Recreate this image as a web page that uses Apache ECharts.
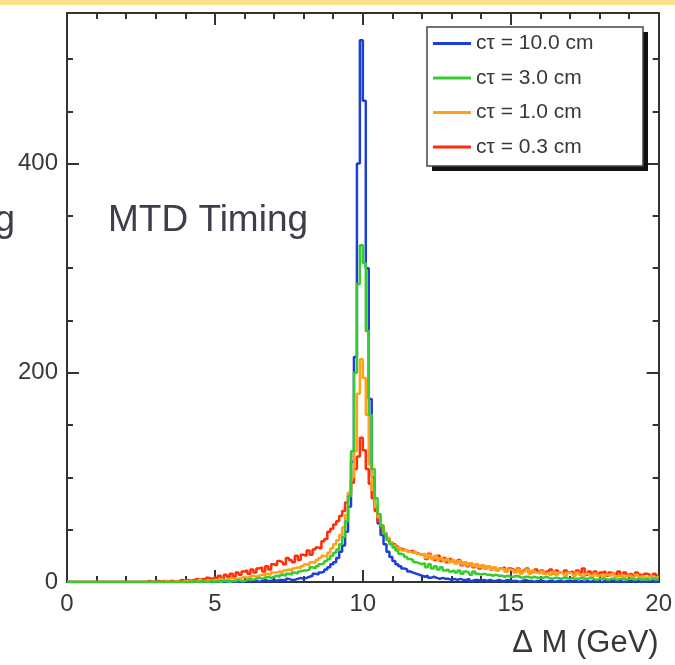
<!DOCTYPE html>
<html>
<head>
<meta charset="utf-8">
<script src="https://cdn.jsdelivr.net/npm/echarts@6.0.0/dist/echarts.min.js"></script>
<style>
  html, body { margin: 0; padding: 0; background: #fff; }
  #chart { width: 675px; height: 665px; }
</style>
</head>
<body>
<div id="chart"></div>
<script>
// ── Data: Delta M histograms, 0.1 GeV bins from 0 to 20 GeV ──────────────
const binWidth = 0.1;
const yMax = 544;
const xTickLabels = [0, 5, 10, 15, 20];

const ct10 = [
  0,0,0,0,0,0,0,0,0,0, 0,0,0,0,0,0,0,0,0,0, 0,0,0,0,0,0,0,0,0,0, 0,0,0,0,0,0,0,0,0,0,
  0,0,0,1,0,0,0,1,0,0, 0,1,0,0,1,0,1,0,1,1, 1,0,1,1,0,1,2,1,1,2, 1,2,2,1,3,2,2,3,4,3,
  4,5,6,8,7,9,10,12,14,17, 19,23,29,35,48,72,115,215,400,518,
  460,300,175,100,72,56,45,36,29,24, 20,17,15,13,12,10,9,8,7,6,
  5,6,4,5,4,3,4,3,3,2, 3,2,3,2,2,3,1,2,2,1, 2,1,2,1,1,2,1,1,2,1, 1,1,0,1,2,1,1,0,1,1,
  1,0,1,1,0,1,1,0,1,0, 1,1,0,1,0,1,0,1,1,0, 0,1,0,1,1,0,1,0,0,1, 1,0,1,0,1,0,1,1,0,1
];
const ct3 = [
  0,0,0,0,0,0,0,0,0,0, 0,0,0,0,0,0,0,0,0,0, 0,0,0,0,0,0,0,0,0,0, 0,0,0,0,0,0,0,0,0,0,
  0,0,1,0,0,1,0,0,1,0, 1,0,1,1,0,1,1,2,1,1, 2,3,2,3,4,3,4,5,4,5, 6,5,7,6,8,7,9,8,10,11,
  11,12,14,13,15,17,18,20,22,25, 28,31,36,43,58,82,125,200,285,322,
  305,240,160,108,80,65,54,46,40,36, 33,30,27,26,24,22,21,19,18,17,
  18,14,17,13,15,12,14,11,12,10, 11,9,11,8,10,9,7,10,8,7, 8,7,7,6,7,6,6,5,6,5, 5,6,5,4,5,5,4,5,4,4,
  4,5,4,3,4,4,3,4,4,3, 4,3,3,4,3,3,4,3,2,3, 3,3,2,3,3,2,3,3,2,3, 3,2,3,3,2,3,2,3,3,2
];
const ct1 = [
  0,0,0,0,0,0,0,0,0,0, 0,0,0,0,0,0,0,0,0,0, 0,0,0,0,0,0,0,0,0,0, 0,0,0,1,0,0,1,0,0,1,
  1,0,1,1,2,1,1,2,1,2, 2,3,2,2,3,4,3,3,4,5, 4,5,6,5,6,7,6,8,7,9, 9,10,9,11,12,11,13,14,13,15,
  17,16,19,18,21,23,25,24,28,32, 36,40,45,52,64,85,100,125,180,213,
  195,160,112,88,72,62,54,47,42,38, 35,33,32,30,31,29,28,29,27,26,
  27,23,26,22,25,21,23,20,22,19, 21,18,20,17,19,16,18,15,17,14, 16,13,15,12,14,11,13,12,10,12, 11,9,12,8,10,12,8,11,9,8,
  10,8,9,7,10,7,9,8,6,9, 8,6,9,7,5,8,7,5,8,6, 7,5,7,6,8,5,6,7,4,6, 6,4,7,5,6,4,5,6,4,5
];
const ct03 = [
  0,0,0,0,0,0,0,0,0,0, 0,0,0,0,0,0,0,0,0,0, 0,0,0,0,0,0,0,1,0,0, 1,0,1,0,1,1,0,1,2,1,
  2,1,2,3,2,3,2,4,3,4, 4,6,3,7,5,8,5,9,7,10, 11,8,12,9,13,14,10,15,12,17, 16,20,19,17,23,21,19,25,21,26,
  25,30,26,31,33,32,39,41,48,51, 55,58,63,68,76,85,95,108,120,138,
  126,108,94,80,68,58,52,46,42,38, 36,34,32,31,30,29,30,28,27,26,
  26,22,27,23,21,25,20,23,19,22, 20,18,21,16,19,15,18,14,17,13, 16,13,15,12,14,11,13,14,10,13, 12,10,13,9,11,13,9,10,12,9,
  11,8,10,12,8,11,9,8,11,9, 10,8,11,9,13,7,10,8,10,7, 9,10,6,9,8,7,10,6,9,7, 8,6,9,7,6,8,7,5,8,6
];

const seriesNames  = ['c\u03c4 = 10.0 cm', 'c\u03c4 = 3.0 cm', 'c\u03c4 = 1.0 cm', 'c\u03c4 = 0.3 cm'];
const seriesValues = [ct10, ct3, ct1, ct03];
const seriesColors = ['#1c3fdc', '#36cc2e', '#ffa21a', '#ff2d0a'];
const seriesZ      = [2, 5, 4, 3];   // green drawn on top, blue at the back

// ── Style ────────────────────────────────────────────────────────────────
const fontFamily = '"Liberation Sans", Arial, Helvetica, sans-serif';
const axisColor  = '#333';
const textColor  = '#383838';

function toSteps(values) {
  const pts = values.map((v, i) => [+(i * binWidth).toFixed(2), v]);
  pts.push([+(values.length * binWidth).toFixed(2), values[values.length - 1]]);
  return pts;
}

const lineStyle = { color: axisColor, width: 2 };

function xAxisDef(pos, labels) {
  return {
    type: 'value', position: pos, min: xTickLabels[0], max: xTickLabels[xTickLabels.length - 1], interval: 5,
    axisLine: { show: true, onZero: false, lineStyle },
    axisTick: { show: true, inside: true, length: 12, lineStyle },
    minorTick: { show: true, splitNumber: 5, length: 6, lineStyle },
    axisLabel: labels
      ? { show: true, fontSize: 24, color: textColor, fontFamily, margin: 10 }
      : { show: false },
    splitLine: { show: false },
    minorSplitLine: { show: false },
  };
}

function yAxisDef(pos, interval, tickLen, labels) {
  return {
    type: 'value', position: pos, min: 0, max: yMax, interval,
    axisLine: { show: tickLen === 12, onZero: false, lineStyle },
    axisTick: { show: true, inside: true, length: tickLen, lineStyle },
    axisLabel: labels
      ? { show: true, fontSize: 24, color: textColor, fontFamily, margin: 9, showMaxLabel: false }
      : { show: false },
    splitLine: { show: false },
  };
}

const chart = echarts.init(document.getElementById('chart'), null, { renderer: 'canvas' });

const bottomX = xAxisDef('bottom', true);
bottomX.name = '\u0394 M (GeV)';
bottomX.nameLocation = 'end';
bottomX.nameGap = 0;
bottomX.nameTextStyle = {
  fontSize: 31, color: textColor, fontFamily,
  align: 'right', verticalAlign: 'top', padding: [46, 0, 0, 0],
};

chart.setOption({
  animation: false,
  backgroundColor: '#fff',
  grid: { left: 67, right: 15, top: 13, bottom: 83, containLabel: false },
  xAxis: [bottomX, xAxisDef('top', false)],
  yAxis: [
    yAxisDef('left', 200, 12, true),
    yAxisDef('left', 50, 6, false),
    yAxisDef('right', 200, 12, false),
    yAxisDef('right', 50, 6, false),
  ],
  legend: {
    orient: 'vertical', left: 427, top: 27,
    data: seriesNames,
    icon: 'rect', itemWidth: 38, itemHeight: 3, itemGap: 13.5,
    padding: [6, 0, 0, 6],
    textStyle: { fontSize: 21, color: textColor, fontFamily, lineHeight: 21 },
    selectedMode: false,
    z: 10,
  },
  graphic: [
    { type: 'rect', left: 0, top: 0, shape: { width: 675, height: 5 }, style: { fill: '#fde08b' } },
    // legend box with its drop shadow
    { type: 'rect', x: 432, y: 32, z: 8, shape: { width: 216, height: 139 }, style: { fill: '#111' } },
    { type: 'rect', x: 427, y: 27, z: 9, shape: { width: 216, height: 139 }, style: { fill: '#fff', stroke: '#444', lineWidth: 1.5 } },
    { type: 'text', x: 108, y: 221, style: { text: 'MTD Timing', fontSize: 37, fontFamily, fill: '#3c3e4c', align: 'left', verticalAlign: 'middle' } },
    { type: 'text', x: 15, y: 221, style: { text: 'Timing', fontSize: 37, fontFamily, fill: '#3c3e4c', align: 'right', verticalAlign: 'middle' } },
  ],
  series: seriesNames.map((name, k) => ({
    name, type: 'line', step: 'end',
    xAxisIndex: 0, yAxisIndex: 0,
    data: toSteps(seriesValues[k]),
    symbol: 'none', showSymbol: false,
    z: seriesZ[k],
    lineStyle: { color: seriesColors[k], width: 2.5 },
    itemStyle: { color: seriesColors[k] },
  })),
});
</script>
</body>
</html>
